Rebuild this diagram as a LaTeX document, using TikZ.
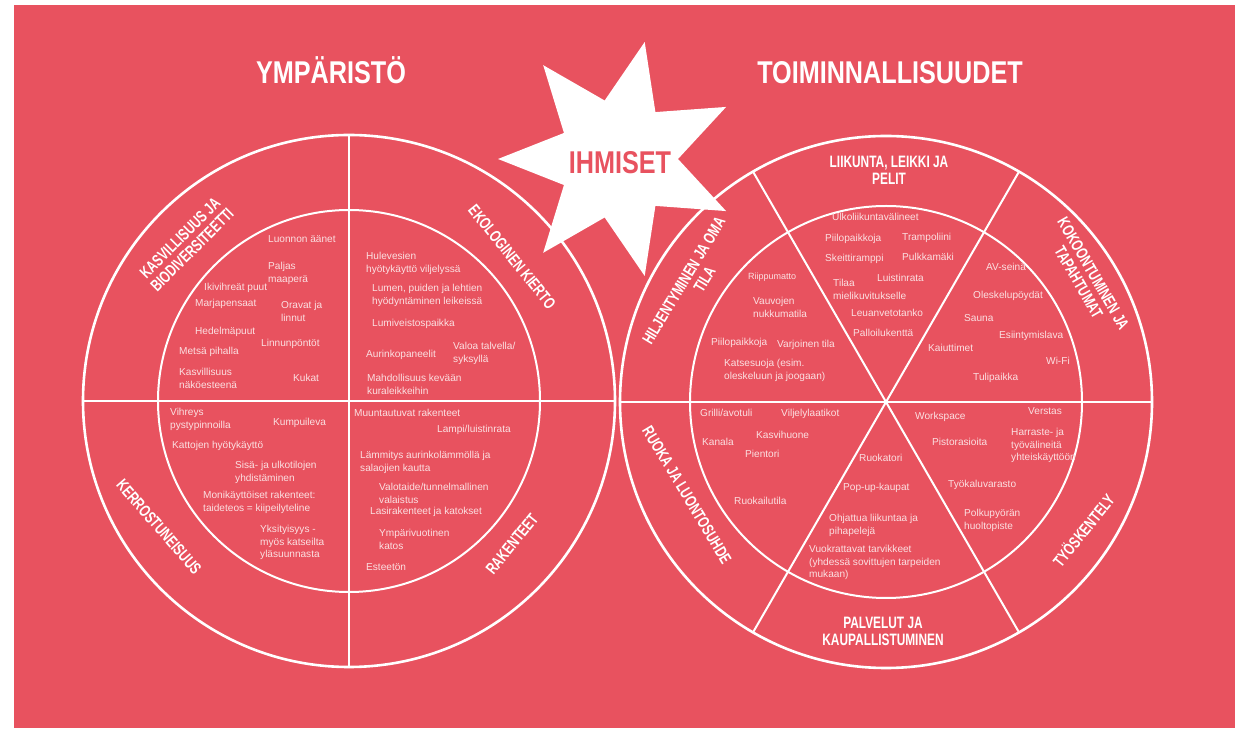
\documentclass[tikz,border=0pt]{standalone}
\usepackage{fontspec}
\setmainfont{Liberation Sans}
\newfontfamily\titlefont[FakeStretch=0.8]{Liberation Sans}
\newfontfamily\ringfont[FakeStretch=0.72]{Liberation Sans}
\definecolor{bgred}{HTML}{E8525F}
\definecolor{itemtxt}{HTML}{FBE0E2}

\begin{document}
\begin{tikzpicture}[x=1pt,y=1pt,
  item/.style={anchor=base west, inner sep=0pt, align=left, text=itemtxt,
    font=\fontsize{10.1}{12.5}\selectfont},
  ring/.style={inner sep=0pt, align=center, text=white,
    font=\ringfont\bfseries\fontsize{16.5}{17}\selectfont},
  title/.style={anchor=base, inner sep=0pt, text=white,
    font=\titlefont\bfseries\fontsize{31.5}{34}\selectfont},
  bigcirc/.style={white, line width=2.6pt},
  smallcirc/.style={white, line width=2pt},
  divline/.style={white, line width=2pt}]

% Background
\fill[white] (0,0) rectangle (1241,728);
\fill[bgred] (14,0) rectangle (1235,723);
\useasboundingbox (0,0) rectangle (1241,728);

% Left circle
\coordinate (lc) at (349,327);
\draw[bigcirc] (lc) circle[radius=266pt];
\draw[smallcirc] (lc) circle[radius=191pt];
\draw[divline] ([shift={(90:266pt)}]lc) -- ([shift={(-90:266pt)}]lc);
\draw[divline] ([shift={(180:266pt)}]lc) -- ([shift={(0:266pt)}]lc);

% Right circle
\coordinate (rc) at (886,326);
\draw[bigcirc] (rc) circle[radius=266pt];
\draw[smallcirc] (rc) circle[radius=196pt];
\foreach \a in {0,60,120}
  \draw[divline] ([shift={(\a:266pt)}]rc) -- ([shift={(\a+180:266pt)}]rc);

% Star
\coordinate (sc) at (618,569);
\fill[white] ([shift={(180:120pt)}]sc)
  \foreach \k in {0,...,6}{
    -- ([shift={(154.29-\k*51.43:60pt)}]sc)
    -- ([shift={(128.57-\k*51.43:120pt)}]sc)} -- cycle;

% Titles
\node[title] (ymp) at (331,644) {YMPÄRISTÖ};
\node[title] (toim) at (890,644) {TOIMINNALLISUUDET};
\node[title, text=bgred] (ihmiset) at (620,554) {IHMISET};

% Ring labels, left
\node[ring, rotate=45] (kasvi) at (186,484) {KASVILLISUUS JA\\BIODIVERSITEETTI};
\node[ring, rotate=-51] (ekol) at (512,471) {EKOLOGINEN KIERTO};
\node[ring, rotate=-49] (kerros) at (159,201) {KERROSTUNEISUUS};
\node[ring, rotate=51] (raken) at (512,184) {RAKENTEET};

% Ring labels, right
\node[ring] (liikunta) at (889,558) {LIIKUNTA, LEIKKI JA\\PELIT};
\node[ring, rotate=-60] (kokoon) at (1086,450) {KOKOONTUMINEN JA\\TAPAHTUMAT};
\node[ring, rotate=51] (tyosk) at (1083,198) {TYÖSKENTELY};
\node[ring] (palvelut) at (883,97) {PALVELUT JA\\KAUPALLISTUMINEN};
\node[ring, rotate=-59] (ruoka) at (687,233) {RUOKA JA LUONTOSUHDE};
\node[ring, rotate=59] (hiljent) at (691,443) {HILJENTYMINEN JA OMA\\\hspace*{24pt}TILA};

% Kasvillisuus
\node[item] (luonnon) at (268,485) {Luonnon äänet};
\node[item] (paljas) at (268,445.5) {Paljas\\maaperä};
\node[item] (ikivihr) at (204,437) {Ikivihreät puut};
\node[item] (marja) at (195,421) {Marjapensaat};
\node[item] (oravat) at (281,406.5) {Oravat ja\\linnut};
\node[item] (hedelma) at (195,393) {Hedelmäpuut};
\node[item] (linnun) at (261,381) {Linnunpöntöt};
\node[item] (metsa) at (179,373) {Metsä pihalla};
\node[item] (kasvnako) at (179,339.5) {Kasvillisuus\\näköesteenä};
\node[item] (kukat) at (293,346) {Kukat};

% Ekologinen kierto
\node[item] (hule) at (366,455.5) {Hulevesien\\hyötykäyttö viljelyssä};
\node[item] (lumen) at (372,423.5) {Lumen, puiden ja lehtien\\hyödyntäminen leikeissä};
\node[item] (lumiv) at (372,401) {Lumiveistospaikka};
\node[item] (aurinko) at (366,370) {Aurinkopaneelit};
\node[item] (valoa) at (453,365.5) {Valoa talvella/\\syksyllä};
\node[item] (mahd) at (367,333.5) {Mahdollisuus kevään\\kuraleikkeihin};

% Kerrostuneisuus
\node[item] (vihreys) at (170,299.5) {Vihreys\\pystypinnoilla};
\node[item] (kumpu) at (273,302) {Kumpuileva};
\node[item] (katto) at (172,279) {Kattojen hyötykäyttö};
\node[item] (sisa) at (235,246.5) {Sisä- ja ulkotilojen\\yhdistäminen};
\node[item] (monik) at (203,216.5) {Monikäyttöiset rakenteet:\\taideteos = kiipeilyteline};
\node[item] (yksit) at (260,170) {Yksityisyys -\\myös katseilta\\yläsuunnasta};

% Rakenteet
\node[item] (muunt) at (354,311) {Muuntautuvat rakenteet};
\node[item] (lampi) at (437,295) {Lampi/luistinrata};
\node[item] (lammitys) at (360,256.5) {Lämmitys aurinkolämmöllä ja\\salaojien kautta};
\node[item] (valot) at (379,224.5) {Valotaide/tunnelmallinen\\valaistus};
\node[item] (lasi) at (370,213) {Lasirakenteet ja katokset};
\node[item] (ympari) at (379,178.5) {Ympärivuotinen\\katos};
\node[item] (esteeton) at (366,157) {Esteetön};

% Hiljentyminen
\node[item, font=\fontsize{9}{11}\selectfont] (riippu) at (748,448) {Riippumatto};
\node[item] (vauvo) at (753,410.5) {Vauvojen\\nukkumatila};
\node[item] (piilo1) at (711,382) {Piilopaikkoja};
\node[item] (varjo) at (777,380) {Varjoinen tila};
\node[item] (katse) at (724,348.5) {Katsesuoja (esim.\\oleskeluun ja joogaan)};

% Liikunta
\node[item] (ulko) at (832,507) {Ulkoliikuntavälineet};
\node[item] (piilo2) at (825,486) {Piilopaikkoja};
\node[item] (trampo) at (902,487) {Trampoliini};
\node[item] (skeitti) at (825,466) {Skeittiramppi};
\node[item] (pulkka) at (902,467) {Pulkkamäki};
\node[item] (tilaa) at (833,428.5) {Tilaa\\mielikuvitukselle};
\node[item] (luistin) at (877,446) {Luistinrata};
\node[item] (leuan) at (851,411) {Leuanvetotanko};
\node[item] (pallo) at (853,391) {Palloilukenttä};

% Kokoontuminen
\node[item] (avseina) at (986,457) {AV-seinä};
\node[item] (olesk) at (973,429) {Oleskelupöydät};
\node[item] (sauna) at (964,406) {Sauna};
\node[item] (esiint) at (999,389) {Esiintymislava};
\node[item] (kaiut) at (928,376) {Kaiuttimet};
\node[item] (wifi) at (1046,363) {Wi-Fi};
\node[item] (tuli) at (973,347) {Tulipaikka};

% Ruoka
\node[item] (grilli) at (700,311) {Grilli/avotuli};
\node[item] (viljely) at (781,311) {Viljelylaatikot};
\node[item] (kanala) at (702,282) {Kanala};
\node[item] (kasvih) at (756,289) {Kasvihuone};
\node[item] (pientori) at (745,270) {Pientori};
\node[item] (ruokail) at (734,223) {Ruokailutila};

% Palvelut
\node[item] (ruokatori) at (859,266) {Ruokatori};
\node[item] (popup) at (843,237) {Pop-up-kaupat};
\node[item] (ohjattua) at (829,193.5) {Ohjattua liikuntaa ja\\pihapelejä};
\node[item] (vuokr) at (809,150) {Vuokrattavat tarvikkeet\\(yhdessä sovittujen tarpeiden\\mukaan)};

% Tyoskentely
\node[item] (workspace) at (915,308) {Workspace};
\node[item] (verstas) at (1028,313) {Verstas};
\node[item] (pistor) at (932,282) {Pistorasioita};
\node[item] (harraste) at (1011,267) {Harraste- ja\\työvälineitä\\yhteiskäyttöön};
\node[item] (tyokalu) at (948,240) {Työkaluvarasto};
\node[item] (polku) at (964,198.5) {Polkupyörän\\huoltopiste};
\end{tikzpicture}
\end{document}
